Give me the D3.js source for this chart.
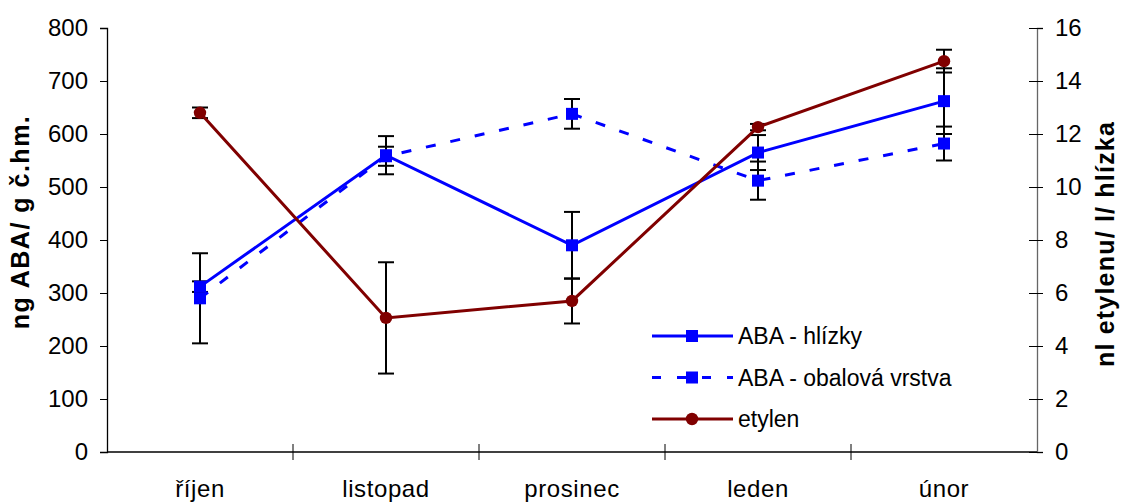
<!DOCTYPE html>
<html lang="cs">
<head>
<meta charset="UTF-8">
<title>ABA a etylen</title>
<script src="https://cdn.jsdelivr.net/npm/d3@7"></script>
<style>
    body { margin: 0; background: #fff; }
    svg { display: block; font-family: "Liberation Sans", Arial, sans-serif; }
</style>
</head>
<body>
<svg width="1121" height="502"></svg>
<script>
    // months on the x axis
    const months = ["říjen", "listopad", "prosinec", "leden", "únor"];

    // ABA in tubers (left axis)
    const abaHlizky = [312, 560, 390, 565, 662];
    const abaHlizkyErr = [10, 36, 63, 33, 62];

    // ABA in the outer layer (left axis)
    const abaObal = [290, 558, 638, 512, 582];
    const abaObalErr = [85, 18, 28, 36, 32];

    // ethylene (right axis)
    const etylen = [12.8, 5.06, 5.7, 12.26, 14.75];
    const etylenErr = [0.2, 2.1, 0.85, 0.12, 0.43];

    const leftTicks = [0, 100, 200, 300, 400, 500, 600, 700, 800];
    const rightTicks = [0, 2, 4, 6, 8, 10, 12, 14, 16];

    const svg = d3.select("svg");
    const plotL = 107, plotR = 1037, plotT = 28, plotB = 452;

    const x = d3.scaleBand().domain(months).range([plotL, plotR]);
    const yL = d3.scaleLinear().domain([0, 800]).range([plotB, plotT]);
    const yR = d3.scaleLinear().domain([0, 16]).range([plotB, plotT]);
    const cx = m => x(m) + x.bandwidth() / 2;

    // left axis
    const gL = svg.append("g").attr("transform", `translate(${plotL},0)`)
        .call(d3.axisLeft(yL).tickValues(leftTicks).tickSize(7).tickPadding(12));
    gL.select(".domain").attr("stroke", "#000").attr("stroke-width", 1.3);
    gL.selectAll(".tick line").attr("stroke", "#000");
    gL.selectAll("text").attr("font-size", 24).attr("fill", "#000");

    // right axis
    const gR = svg.append("g").attr("transform", `translate(${plotR},0)`)
        .call(d3.axisRight(yR).tickValues(rightTicks).tickSize(6).tickPadding(12));
    gR.select(".domain").attr("stroke", "#666").attr("stroke-width", 1.3);
    gR.selectAll(".tick line").attr("stroke", "#000").attr("x1", -8);
    gR.selectAll("text").attr("font-size", 24).attr("fill", "#000");

    // x axis
    const gX = svg.append("g").attr("transform", `translate(0,${plotB})`);
    gX.append("line").attr("x1", plotL).attr("x2", plotR)
        .attr("stroke", "#000").attr("stroke-width", 1.3);
    const bounds = months.map(m => x(m)).concat([plotR]);
    gX.selectAll("line.tk").data(bounds.slice(1, -1)).enter().append("line")
        .attr("class", "tk")
        .attr("x1", d => d).attr("x2", d => d)
        .attr("y1", -8).attr("y2", 8)
        .attr("stroke", "#000");
    gX.selectAll("text").data(months).enter().append("text")
        .attr("x", d => cx(d)).attr("y", 45)
        .attr("text-anchor", "middle")
        .attr("font-size", 24)
        .attr("letter-spacing", 0.6)
        .text(d => d);

    // axis titles
    svg.append("text")
        .attr("transform", "translate(29,222) rotate(-90)")
        .attr("text-anchor", "middle")
        .attr("font-size", 25).attr("font-weight", "bold")
        .attr("letter-spacing", 1.5)
        .text("ng ABA/ g č.hm.");
    svg.append("text")
        .attr("transform", "translate(1114,244) rotate(-90)")
        .attr("text-anchor", "middle")
        .attr("font-size", 25).attr("font-weight", "bold")
        .attr("letter-spacing", 1.2)
        .text("nl etylenu/ l/ hlízka");

    // error bars
    function errBars(vals, errs, scale) {
        const g = svg.append("g").attr("stroke", "#000").attr("stroke-width", 2);
        vals.forEach((v, i) => {
            const px = cx(months[i]);
            const y0 = scale(v - errs[i]), y1 = scale(v + errs[i]);
            g.append("line").attr("x1", px).attr("x2", px).attr("y1", y0).attr("y2", y1);
            g.append("line").attr("x1", px - 8).attr("x2", px + 8).attr("y1", y0).attr("y2", y0);
            g.append("line").attr("x1", px - 8).attr("x2", px + 8).attr("y1", y1).attr("y2", y1);
        });
    }
    errBars(abaHlizky, abaHlizkyErr, yL);
    errBars(abaObal, abaObalErr, yL);
    errBars(etylen, etylenErr, yR);

    const blue = "#0000ff", red = "#800000";

    function series(vals, scale, color, dash, marker) {
        const line = d3.line().x((d, i) => cx(months[i])).y(d => scale(d));
        svg.append("path").datum(vals)
            .attr("d", line)
            .attr("fill", "none")
            .attr("stroke", color)
            .attr("stroke-width", 3)
            .attr("stroke-dasharray", dash);
        const g = svg.append("g").attr("fill", color);
        vals.forEach((v, i) => {
            if (marker === "square") {
                g.append("rect").attr("x", cx(months[i]) - 6).attr("y", scale(v) - 6)
                    .attr("width", 12).attr("height", 12);
            } else {
                g.append("circle").attr("cx", cx(months[i])).attr("cy", scale(v)).attr("r", 6.2);
            }
        });
    }
    series(abaObal, yL, blue, "10,15", "square");
    series(abaHlizky, yL, blue, null, "square");
    series(etylen, yR, red, null, "circle");

    // legend
    const legendItems = [
        { label: "ABA - hlízky", color: blue, dash: null, marker: "square" },
        { label: "ABA - obalová vrstva", color: blue, dash: "9,16", marker: "square" },
        { label: "etylen", color: red, dash: null, marker: "circle" }
    ];
    const lg = svg.append("g").attr("transform", "translate(652,336)");
    legendItems.forEach((d, i) => {
        const gy = i * 41.5;
        lg.append("line").attr("x1", 0).attr("x2", 81).attr("y1", gy).attr("y2", gy)
            .attr("stroke", d.color).attr("stroke-width", 3)
            .attr("stroke-dasharray", d.dash);
        if (d.marker === "square") {
            lg.append("rect").attr("x", 34).attr("y", gy - 6).attr("width", 12).attr("height", 12)
                .attr("fill", d.color);
        } else {
            lg.append("circle").attr("cx", 40).attr("cy", gy).attr("r", 6.2).attr("fill", d.color);
        }
        lg.append("text").attr("x", 86).attr("y", gy + 8)
            .attr("font-size", 23).text(d.label);
    });
</script>
</body>
</html>
